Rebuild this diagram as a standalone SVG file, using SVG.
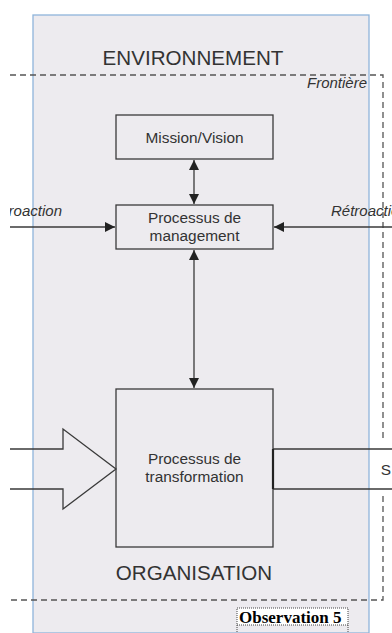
<svg xmlns="http://www.w3.org/2000/svg" width="392" height="633" viewBox="0 0 392 633">
<style>
.box{fill:none;stroke:#3a3a3a;stroke-width:1.3}
.ln{fill:none;stroke:#3a3a3a;stroke-width:1.3}
.dash{fill:none;stroke:#555;stroke-width:1.3;stroke-dasharray:6,4}
.t{font-family:"Liberation Sans",Arial,sans-serif;fill:#333;text-anchor:middle}
.it{font-family:"Liberation Sans",Arial,sans-serif;font-style:italic;fill:#333;font-size:15px}
.big{font-size:20.6px}
.mid{font-size:15.4px}
</style>
<defs>
<marker id="ah" viewBox="0 0 10 10" refX="10" refY="5" markerWidth="10" markerHeight="10" markerUnits="userSpaceOnUse" orient="auto-start-reverse">
<path d="M0,0 L10,5 L0,10 z" fill="#222"/>
</marker>
<clipPath id="crop"><rect x="10" y="0" width="382" height="633"/></clipPath>
</defs>
<rect width="392" height="633" fill="#ffffff"/>
<g id="environnement">
<rect x="33" y="15" width="336" height="618" fill="#edebef" stroke="#8fb4da" stroke-width="1.3"/>
<text class="t big" x="193" y="65">ENVIRONNEMENT</text>
</g>
<g id="frontiere">
<path class="dash" d="M10,75 H383 V442"/>
<path class="dash" d="M383,496 V600 H10"/>
<text class="it" x="367" y="88" text-anchor="end">Frontière</text>
</g>
<g id="mission">
<rect class="box" x="116" y="115" width="157" height="44"/>
<text class="t mid" x="194.5" y="143">Mission/Vision</text>
</g>
<g id="management">
<rect class="box" x="116" y="205" width="157" height="44"/>
<text class="t mid" x="194.5" y="223">Processus de</text>
<text class="t mid" x="194.5" y="241">management</text>
</g>
<g id="transformation">
<rect class="box" x="116" y="389" width="157" height="158"/>
<text class="t mid" x="194.5" y="464">Processus de</text>
<text class="t mid" x="194.5" y="482">transformation</text>
</g>
<g id="organisation">
<text class="t big" x="194" y="580">ORGANISATION</text>
</g>
<g id="connectors">
<line class="ln" x1="194" y1="160" x2="194" y2="204" marker-start="url(#ah)" marker-end="url(#ah)"/>
<line class="ln" x1="194" y1="250" x2="194" y2="388" marker-start="url(#ah)" marker-end="url(#ah)"/>
<line class="ln" x1="10" y1="227" x2="115" y2="227" marker-end="url(#ah)"/>
<line class="ln" x1="392" y1="227" x2="274" y2="227" marker-end="url(#ah)"/>
<path class="ln" d="M10,449 H63 V429 L116,469 L63,509 V489 H10" stroke-linejoin="miter"/>
<path class="ln" d="M392,449 H273 M392,489 H273"/>
<line x1="273" y1="449" x2="273" y2="489" stroke="#222" stroke-width="2.2"/>
</g>
<g id="labels">
<text class="it" x="62" y="216" text-anchor="end" clip-path="url(#crop)">Rétroaction</text>
<text class="it" x="331" y="216">Rétroaction</text>
<text class="t mid" x="386" y="475" text-anchor="start">S</text>
</g>
<g id="observation">
<rect x="237" y="608" width="111" height="17" fill="#ffffff" stroke="#444" stroke-width="1" stroke-dasharray="1,1"/>
<path d="M237,625 V633 M348,625 V633" stroke="#444" stroke-width="1" stroke-dasharray="1,1"/>
<text x="239" y="623" font-family="Liberation Serif,'Times New Roman',serif" font-weight="bold" font-size="17" fill="#000">Observation 5</text>
</g>
</svg>
